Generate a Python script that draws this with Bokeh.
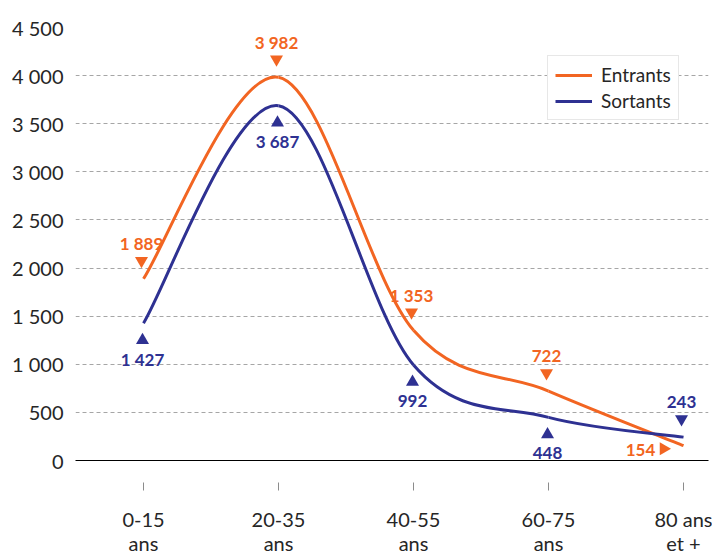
import math
from bokeh.plotting import figure
from bokeh.models import Range1d, FixedTicker, Legend, LegendItem, ColumnDataSource
from bokeh.embed import file_html
from bokeh.resources import INLINE
from bokeh.core.properties import value

# ---- data ----
categories = ["0-15\nans", "20-35\nans", "40-55\nans", "60-75\nans", "80 ans\net +"]
entrants = [1889, 3982, 1353, 722, 154]
sortants = [1427, 3687, 992, 448, 243]
y_ticks = [0, 500, 1000, 1500, 2000, 2500, 3000, 3500, 4000, 4500]
entrants_label_side = ["above", "above", "above", "above", "left"]
sortants_label_side = ["below", "below", "below", "below", "above"]

# ---- style ----
ORANGE = "#F26522"
BLUE = "#2E3192"
TXT = "#262626"
FONT = "Lato"

W, H = 712, 557
B_LEFT, B_TOP, B_BOTTOM, B_RIGHT = 75, 27, 97, 4
FRAME_W = W - B_LEFT - B_RIGHT
FRAME_H = H - B_TOP - B_BOTTOM
Y_MAX = 4500
X_START, X_END = -0.5037, 4.185
PX_PER_X = FRAME_W / (X_END - X_START)
PX_PER_Y = FRAME_H / Y_MAX


def fmt(v):
    return f"{v:,}".replace(",", " ")


p = figure(width=W, height=H, output_backend="svg", toolbar_location=None,
           x_range=Range1d(X_START, X_END), y_range=Range1d(0, Y_MAX),
           min_border_left=B_LEFT, min_border_right=B_RIGHT,
           min_border_top=B_TOP, min_border_bottom=B_BOTTOM)
p.outline_line_color = None
p.background_fill_color = "white"
p.border_fill_color = "white"

# grid
p.xgrid.visible = False
p.ygrid.ticker = FixedTicker(ticks=y_ticks)
p.ygrid.grid_line_color = "#a6a6a6"
p.ygrid.grid_line_dash = "4 3"
p.ygrid.grid_line_width = 1

# y axis
p.yaxis.ticker = FixedTicker(ticks=y_ticks)
p.yaxis.major_label_overrides = {t: fmt(t) for t in y_ticks}
p.yaxis.axis_line_color = None
p.yaxis.major_tick_line_color = None
p.yaxis.minor_tick_line_color = None
p.yaxis.major_tick_in = 0
p.yaxis.major_tick_out = 0
p.yaxis.major_label_standoff = 12
p.yaxis.major_label_text_font = FONT
p.yaxis.major_label_text_font_size = "20px"
p.yaxis.major_label_text_color = TXT

# x axis
p.xaxis.ticker = FixedTicker(ticks=list(range(len(categories))))
p.xaxis.major_label_overrides = {i: c for i, c in enumerate(categories)}
p.xaxis.axis_line_color = "black"
p.xaxis.axis_line_width = 1
p.xaxis.major_tick_line_color = "#8c8c8c"
p.xaxis.major_tick_in = -22
p.xaxis.major_tick_out = 30
p.xaxis.minor_tick_line_color = None
p.xaxis.major_label_standoff = 16
p.xaxis.major_label_text_font = FONT
p.xaxis.major_label_text_font_size = "20px"
p.xaxis.major_label_text_line_height = 1.0
p.xaxis.major_label_text_color = TXT


def smooth(ys):
    n = len(ys)
    pts = [(float(i), float(y)) for i, y in enumerate(ys)]
    d = dict(x0=[], y0=[], x1=[], y1=[], cx0=[], cy0=[], cx1=[], cy1=[])
    for i in range(n - 1):
        p0 = pts[max(i - 1, 0)]
        p1 = pts[i]
        p2 = pts[i + 1]
        p3 = pts[min(i + 2, n - 1)]
        d["x0"].append(p1[0]); d["y0"].append(p1[1])
        d["x1"].append(p2[0]); d["y1"].append(p2[1])
        d["cx0"].append(p1[0] + (p2[0] - p0[0]) / 6)
        d["cy0"].append(p1[1] + (p2[1] - p0[1]) / 6)
        d["cx1"].append(p2[0] - (p3[0] - p1[0]) / 6)
        d["cy1"].append(p2[1] - (p3[1] - p1[1]) / 6)
    return ColumnDataSource(d)


r_ent = p.bezier(x0="x0", y0="y0", x1="x1", y1="y1", cx0="cx0", cy0="cy0",
                 cx1="cx1", cy1="cy1", source=smooth(entrants),
                 line_color=ORANGE, line_width=3)
r_sor = p.bezier(x0="x0", y0="y0", x1="x1", y1="y1", cx0="cx0", cy0="cy0",
                 cx1="cx1", cy1="cy1", source=smooth(sortants),
                 line_color=BLUE, line_width=3)

# label placement (screen px, y down): marker offset, text offset, marker, angle
PLACE = {
    "above": dict(mdx=-2, mdy=-18, tdx=-2, tdy=-35, marker="inverted_triangle", angle=0.0),
    "below": dict(mdx=-1, mdy=17, tdx=-1, tdy=36, marker="triangle", angle=0.0),
    "left": dict(mdx=-20, mdy=3, tdx=-43, tdy=4, marker="triangle", angle=-math.pi / 2),
}


def add_labels(vals, sides, color):
    mk = dict(x=[], y=[], marker=[], angle=[])
    tx = dict(x=[], y=[], t=[], dx=[], dy=[])
    for i, (v, s) in enumerate(zip(vals, sides)):
        pl = PLACE[s]
        mk["x"].append(i + pl["mdx"] / PX_PER_X)
        mk["y"].append(v - pl["mdy"] / PX_PER_Y)
        mk["marker"].append(pl["marker"])
        mk["angle"].append(pl["angle"])
        tx["x"].append(i)
        tx["y"].append(v)
        tx["t"].append(fmt(v))
        tx["dx"].append(pl["tdx"])
        tx["dy"].append(pl["tdy"])
    p.scatter(x="x", y="y", marker="marker", angle="angle", size=13,
              source=ColumnDataSource(mk), fill_color=color, line_color=None)
    p.text(x="x", y="y", text="t", x_offset="dx", y_offset="dy",
           source=ColumnDataSource(tx), text_align="center",
           text_baseline="middle", text_font=value(FONT),
           text_font_style="bold", text_font_size="17px", text_color=color)


add_labels(entrants, entrants_label_side, ORANGE)
add_labels(sortants, sortants_label_side, BLUE)

legend = Legend(items=[LegendItem(label="Entrants", renderers=[r_ent]),
                       LegendItem(label="Sortants", renderers=[r_sor])],
                location=(472, 340))
legend.border_line_color = "#d0d0d0"
legend.border_line_width = 1
legend.background_fill_color = "white"
legend.background_fill_alpha = 1
legend.label_text_font = FONT
legend.label_text_font_size = "19px"
legend.label_text_color = TXT
legend.glyph_width = 37
legend.glyph_height = 20
legend.label_height = 20
legend.label_standoff = 9
legend.padding = 7
legend.spacing = 3
legend.margin = 0
p.add_layout(legend)

open("out.html", "w").write(file_html(p, INLINE))
